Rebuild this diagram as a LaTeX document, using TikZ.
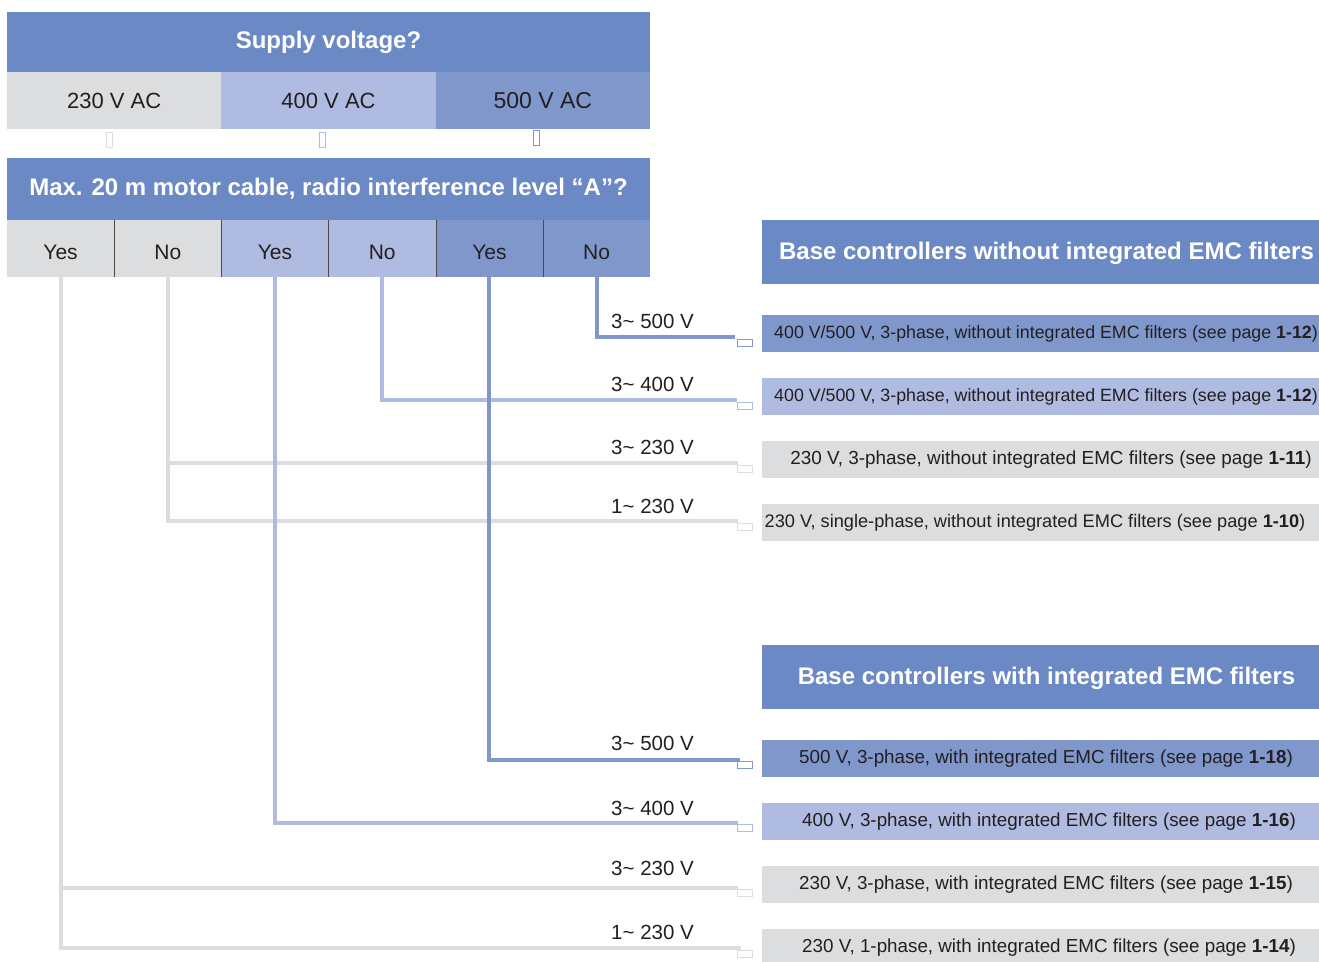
\documentclass[tikz,border=0pt]{standalone}
\usepackage{fontspec}
\setmainfont{Liberation Sans}
\definecolor{hdr}{HTML}{6B8AC5}
\definecolor{mid}{HTML}{7F97CB}
\definecolor{lite}{HTML}{AFBBE1}
\definecolor{gry}{HTML}{DCDDDF}
\definecolor{txt}{HTML}{231F20}
\definecolor{sepc}{HTML}{4A4A4A}
\begin{document}
\begin{tikzpicture}[x=1pt,y=-1pt,
  hdrbox/.style={fill=hdr,text=white,inner sep=0,font=\fontsize{24}{28}\selectfont\bfseries},
  volt/.style={fill=#1,text=txt,inner sep=0,minimum width=214.5,minimum height=57,font=\fontsize{22}{26}\selectfont},
  yn/.style={fill=#1,text=txt,inner sep=0,minimum width=107.2,minimum height=57,text height=21,text depth=0,font=\fontsize{21}{24}\selectfont},
  rbox/.style={fill=#1,inner sep=0,minimum width=557,minimum height=37},
  rtext/.style={text=txt,inner sep=0,font=\fontsize{#1}{21}\selectfont},
  rtext/.default=18,
  vlab/.style={text=txt,inner sep=0,anchor=west,font=\fontsize{20.5}{24}\selectfont},
  conn/.style={draw=#1,line width=4pt},
  marker/.style={draw=#1,line width=0.8pt,inner sep=0,minimum width=15,minimum height=7},
  tick/.style={draw=#1,line width=0.8pt,inner sep=0,minimum width=6,minimum height=15},
  sepline/.style={draw=sepc,line width=1pt}]
\useasboundingbox (0,0) rectangle (1319,961);

% left question blocks
\node[hdrbox,minimum width=643,minimum height=60] (q1) at (328.5,42) {Supply voltage?};
\node[volt=gry]  (v230) at (114.2,100.5) {230 V AC};
\node[volt=lite] (v400) at (328.5,100.5) {400 V AC};
\node[volt=mid,font=\fontsize{23}{27}\selectfont] (v500) at (542.8,100.5) {500 V AC};
\node[tick=gry]  (t1) at (109,140) {};
\node[tick=lite] (t2) at (322.5,140) {};
\node[tick=mid]  (t3) at (536,138) {};
\node[hdrbox,minimum width=643,minimum height=62] (q2) at (328.5,189) {Max. 20 m motor cable, radio interference level “A”?};

\node[yn=gry]  (c1) at (60.6,248.5)  {Yes};
\node[yn=gry]  (c2) at (167.8,248.5) {No};
\node[yn=lite] (c3) at (275,248.5)   {Yes};
\node[yn=lite] (c4) at (382.2,248.5) {No};
\node[yn=mid]  (c5) at (489.4,248.5) {Yes};
\node[yn=mid]  (c6) at (596.6,248.5) {No};
\foreach \c in {c1,c2,c3,c4,c5}
  \draw[sepline] (\c.north east) -- (\c.south east);

% right result blocks
\node[hdrbox,minimum width=557,minimum height=64] (h1) at (1040.5,252) {};
\node[hdrbox] (h1t) at (1046.5,253) {Base controllers without integrated EMC filters};
\node[rbox=mid]  (b1) at (1040.5,333.5) {};
\node[rbox=lite] (b2) at (1040.5,396.5) {};
\node[rbox=gry]  (b3) at (1040.5,459.5) {};
\node[rbox=gry]  (b4) at (1040.5,522.5) {};
\node[rtext=17.8] at (1046,334) {400 V/500 V, 3-phase, without integrated EMC filters (see page \textbf{1-12})};
\node[rtext=17.8] at (1046,397) {400 V/500 V, 3-phase, without integrated EMC filters (see page \textbf{1-12})};
\node[rtext=18.9] at (1051,460) {230 V, 3-phase, without integrated EMC filters (see page \textbf{1-11})};
\node[rtext=18.2] at (1035,523) {230 V, single-phase, without integrated EMC filters (see page \textbf{1-10})};

\node[hdrbox,minimum width=557,minimum height=64] (h2) at (1040.5,677) {};
\node[hdrbox] (h2t) at (1046.5,678) {Base controllers with integrated EMC filters};
\node[rbox=mid]  (b5) at (1040.5,758.5) {};
\node[rbox=lite] (b6) at (1040.5,821.5) {};
\node[rbox=gry]  (b7) at (1040.5,884.5) {};
\node[rbox=gry]  (b8) at (1040.5,947.5) {};
\node[rtext=18.8] at (1046,759) {500 V, 3-phase, with integrated EMC filters (see page \textbf{1-18})};
\node[rtext=18.8] at (1049,822) {400 V, 3-phase, with integrated EMC filters (see page \textbf{1-16})};
\node[rtext=18.8] at (1046,885) {230 V, 3-phase, with integrated EMC filters (see page \textbf{1-15})};
\node[rtext=18.8] at (1049,948) {230 V, 1-phase, with integrated EMC filters (see page \textbf{1-14})};

% connector ends
\coordinate (e1) at (735,337);
\coordinate (e2) at (737,400);
\coordinate (e3) at (738,463);
\coordinate (e4) at (738,521);
\coordinate (e5) at (740,760);
\coordinate (e6) at (738,823);
\coordinate (e7) at (738,888);
\coordinate (e8) at (741,948);

\draw[conn=gry]  (c1.south) |- (e8);
\draw[conn=gry]  (c1.south) |- (e7);
\draw[conn=gry]  (c2.south) |- (e4);
\draw[conn=gry]  (c2.south) |- (e3);
\draw[conn=lite] (c3.south) |- (e6);
\draw[conn=lite] (c4.south) |- (e2);
\draw[conn=mid]  (c5.south) |- (e5);
\draw[conn=mid]  (c6.south) |- (e1);

\node[marker=mid]  (m1) at (745,342.5) {};
\node[marker=lite] (m2) at (745,405.5) {};
\node[marker=gry]  (m3) at (745,468.5) {};
\node[marker=gry]  (m4) at (745,526.5) {};
\node[marker=mid]  (m5) at (745,765) {};
\node[marker=lite] (m6) at (745,828) {};
\node[marker=gry]  (m7) at (745,893) {};
\node[marker=gry]  (m8) at (745,953.5) {};

% voltage labels
\node[vlab] (l1) at (611,321) {3\textasciitilde\ 500 V};
\node[vlab] (l2) at (611,384) {3\textasciitilde\ 400 V};
\node[vlab] (l3) at (611,447) {3\textasciitilde\ 230 V};
\node[vlab] (l4) at (611,506) {1\textasciitilde\ 230 V};
\node[vlab] (l5) at (611,743) {3\textasciitilde\ 500 V};
\node[vlab] (l6) at (611,808) {3\textasciitilde\ 400 V};
\node[vlab] (l7) at (611,868) {3\textasciitilde\ 230 V};
\node[vlab] (l8) at (611,932) {1\textasciitilde\ 230 V};
\end{tikzpicture}
\end{document}
